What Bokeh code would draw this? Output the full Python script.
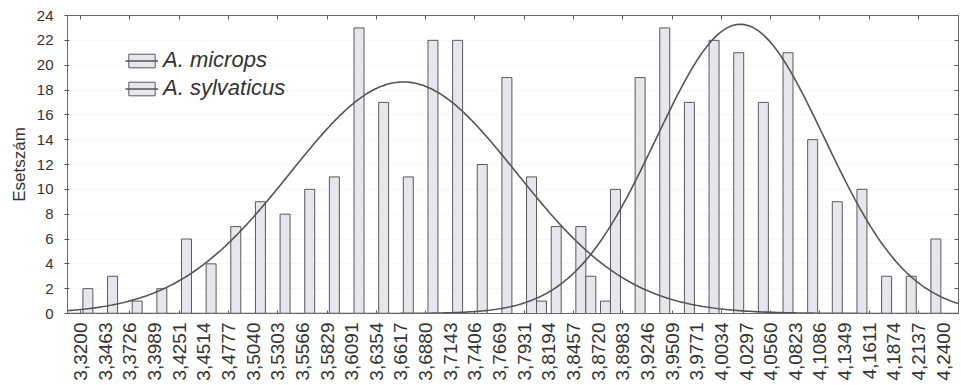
import numpy as np
from bokeh.plotting import figure
from bokeh.models import (Range1d, FixedTicker, LinearAxis, Legend, LegendItem,
                          ColumnDataSource)
from bokeh.embed import file_html
from bokeh.resources import INLINE

# ---- data ----
x_labels = ["3,3200", "3,3463", "3,3726", "3,3989", "3,4251", "3,4514", "3,4777",
            "3,5040", "3,5303", "3,5566", "3,5829", "3,6091", "3,6354", "3,6617",
            "3,6880", "3,7143", "3,7406", "3,7669", "3,7931", "3,8194", "3,8457",
            "3,8720", "3,8983", "3,9246", "3,9509", "3,9771", "4,0034", "4,0297",
            "4,0560", "4,0823", "4,1086", "4,1349", "4,1611", "4,1874", "4,2137",
            "4,2400"]

# counts per bin (bin k lies between x_labels[k] and x_labels[k+1])
microps = [2, 3, 1, 2, 6, 4, 7, 9, 8, 10, 11, 23, 17, 11, 22, 22, 12, 19, 11, 7,
           7, 1, 0, 0, 0, 0, 0, 0, 0, 0, 0, 0, 0, 0, 0]
sylvaticus = [0, 0, 0, 0, 0, 0, 0, 0, 0, 0, 0, 0, 0, 0, 0, 0, 0, 0, 1, 0,
              3, 10, 19, 23, 17, 22, 21, 17, 21, 14, 9, 10, 3, 3, 6]

# fitted normal curves (mean, standard deviation)
microps_fit = (3.6643, 0.1209)
sylvaticus_fit = (4.0237, 0.0896)

y_ticks = [0, 2, 4, 6, 8, 10, 12, 14, 16, 18, 20, 22, 24]
series_names = ["A. microps", "A. sylvaticus"]

# ---- derived ----
x_lo = float(x_labels[0].replace(",", "."))
x_hi = float(x_labels[-1].replace(",", "."))
n_bins = len(x_labels) - 1
step = (x_hi - x_lo) / n_bins
bar_w = 0.405
X0, X1 = -0.53, 35.62

bins = np.arange(n_bins)
src_m = ColumnDataSource(dict(x=[k + 0.5 - bar_w / 2 for k, v in zip(bins, microps) if v > 0],
                              top=[v for v in microps if v > 0]))
src_s = ColumnDataSource(dict(x=[k + 0.5 + bar_w / 2 for k, v in zip(bins, sylvaticus) if v > 0],
                              top=[v for v in sylvaticus if v > 0]))

xs = np.linspace(X0, X1, 500)
vals = x_lo + xs * step


def normal_curve(fit, n):
    mu, sd = fit
    return n * step / (sd * np.sqrt(2 * np.pi)) * np.exp(-0.5 * ((vals - mu) / sd) ** 2)


ym = normal_curve(microps_fit, sum(microps))
ys = normal_curve(sylvaticus_fit, sum(sylvaticus))

FONT = "Liberation Sans"
TXT = "#333333"
LINE = "#5a5a5a"

p = figure(width=961, height=385, x_range=Range1d(X0, X1), y_range=Range1d(0, 24),
           output_backend="svg", toolbar_location=None,
           min_border_left=67, min_border_right=3, min_border_top=15,
           min_border_bottom=72)
p.background_fill_color = "white"
p.border_fill_color = "white"
p.outline_line_color = "#6a6a6a"
p.outline_line_width = 1

p.xgrid.visible = False
p.ygrid.ticker = FixedTicker(ticks=y_ticks)
p.ygrid.grid_line_color = "#dcdcdc"
p.ygrid.grid_line_dash = "1 3"

bar_m = p.vbar(x="x", top="top", bottom=0, width=bar_w, source=src_m,
               fill_color="#e6e6ec", line_color=LINE, line_width=1)
bar_s = p.vbar(x="x", top="top", bottom=0, width=bar_w, source=src_s,
               fill_color="#e6e6ec", line_color=LINE, line_width=1)
line_m = p.line(xs, ym, line_color="#555555", line_width=1.6)
line_s = p.line(xs, ys, line_color="#555555", line_width=1.6)

# bottom axis
xa = p.xaxis[0]
xa.ticker = FixedTicker(ticks=list(range(len(x_labels))),
                        minor_ticks=list(range(0, len(x_labels), 2)))
xa.major_label_overrides = {i: lab for i, lab in enumerate(x_labels)}
xa.major_label_orientation = np.pi / 2
xa.major_tick_in = 0
xa.major_tick_out = 0
xa.minor_tick_in = 3
xa.minor_tick_out = 0
xa.minor_tick_line_color = LINE
xa.axis_line_color = "#6a6a6a"
xa.major_label_standoff = 9
xa.major_label_text_font = FONT
xa.major_label_text_font_size = "19px"
xa.major_label_text_color = TXT

# left axis
ya = p.yaxis[0]
ya.ticker = FixedTicker(ticks=y_ticks)
ya.major_tick_in = 2
ya.major_tick_out = 3
ya.minor_tick_line_color = None
ya.major_tick_line_color = LINE
ya.axis_line_color = "#6a6a6a"
ya.major_label_standoff = 11
ya.major_label_text_font = FONT
ya.major_label_text_font_size = "15px"
ya.major_label_text_color = TXT
ya.axis_label = "Esetszám"
ya.axis_label_text_font = FONT
ya.axis_label_text_font_size = "17px"
ya.axis_label_text_font_style = "normal"
ya.axis_label_text_color = TXT
ya.axis_label_standoff = 5

# top and right frame ticks (no labels)
top_ticks = list(range(0, len(x_labels), 2))
top = LinearAxis(ticker=FixedTicker(ticks=top_ticks),
                 major_label_overrides={t: "" for t in top_ticks},
                 major_label_standoff=0,
                 major_tick_in=4, major_tick_out=0, minor_tick_line_color=None,
                 major_tick_line_color=LINE, axis_line_color=None)
p.add_layout(top, "above")
right = LinearAxis(ticker=FixedTicker(ticks=y_ticks),
                   major_label_overrides={t: "" for t in y_ticks},
                   major_label_standoff=0,
                   major_tick_in=4, major_tick_out=0, minor_tick_line_color=None,
                   major_tick_line_color=LINE, axis_line_color=None)
p.add_layout(right, "right")

legend = Legend(items=[LegendItem(label=series_names[0], renderers=[bar_m, line_m]),
                       LegendItem(label=series_names[1], renderers=[bar_s, line_s])],
                location=(58, 212), padding=0, margin=0, spacing=2,
                glyph_width=33, glyph_height=17, label_standoff=5,
                label_text_font=FONT, label_text_font_style="italic",
                label_text_font_size="22px", label_text_color=TXT,
                background_fill_alpha=0, border_line_color=None)
p.add_layout(legend)

open("out.html", "w").write(file_html(p, INLINE))
